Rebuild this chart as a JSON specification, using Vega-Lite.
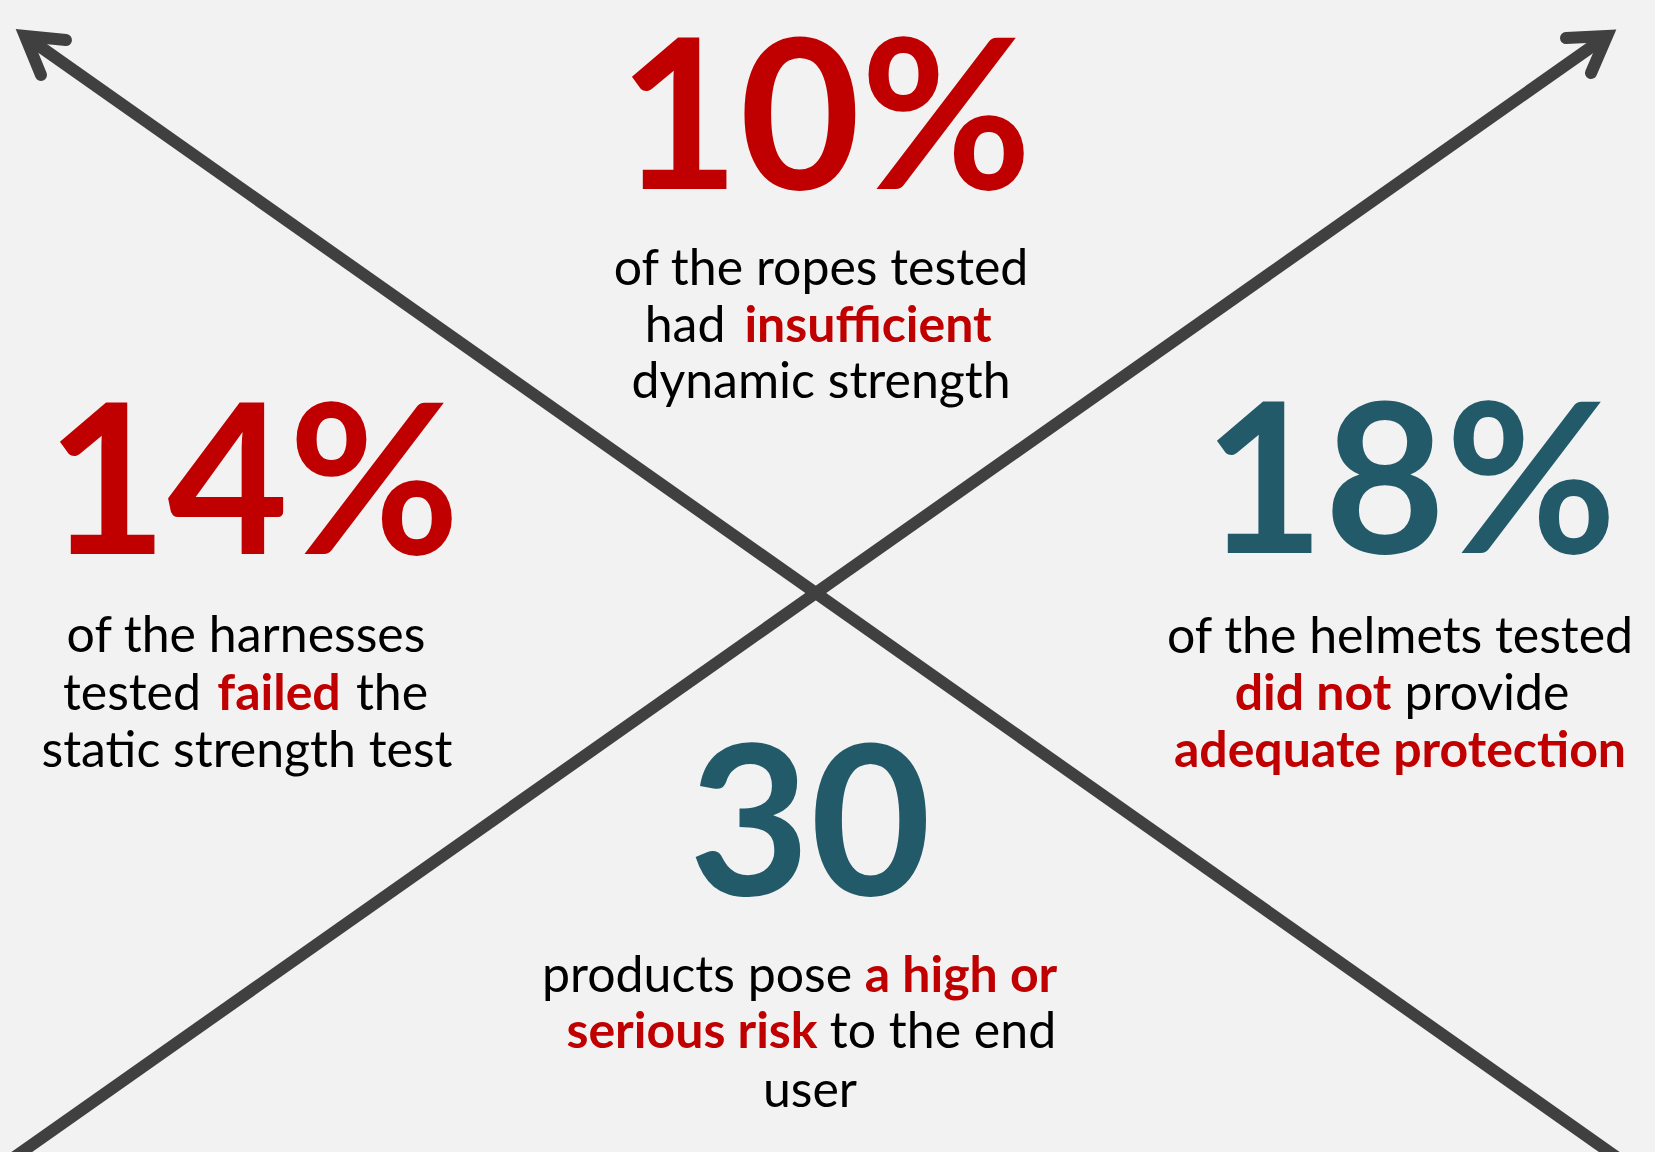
{
  "$schema": "https://vega.github.io/schema/vega-lite/v6.json",
  "width": 1655,
  "height": 1152,
  "autosize": {"type": "none"},
  "padding": 0,
  "background": "#f2f2f2",
  "config": {"view": {"stroke": null}},
  "datasets": {
    "strokes": [
      {"id": "a", "part": "shaft", "step": 0, "x": 25, "y": 36},
      {"id": "a", "part": "shaft", "step": 1, "x": 1649, "y": 1180},
      {"id": "b", "part": "shaft", "step": 0, "x": -18, "y": 1180},
      {"id": "b", "part": "shaft", "step": 1, "x": 1607, "y": 36},
      {"id": "c", "part": "head", "step": 0, "x": 66, "y": 40},
      {"id": "c", "part": "head", "step": 1, "x": 25, "y": 36},
      {"id": "c", "part": "head", "step": 2, "x": 41, "y": 75},
      {"id": "d", "part": "head", "step": 0, "x": 1566, "y": 38},
      {"id": "d", "part": "head", "step": 1, "x": 1607, "y": 36},
      {"id": "d", "part": "head", "step": 2, "x": 1591, "y": 73}
    ],
    "figures": [
      {"label": "10%", "x": 825, "y": 189, "tone": "alert"},
      {"label": "14%", "x": 253, "y": 554, "tone": "alert"},
      {"label": "18%", "x": 1410, "y": 553, "tone": "calm"},
      {"label": "30", "x": 810, "y": 895, "tone": "calm"}
    ],
    "phrases": [
      {"label": "of the ropes tested", "x": 821, "y": 285, "emph": false},
      {"label": "had", "x": 685, "y": 342, "emph": false},
      {"label": "insufficient", "x": 868, "y": 342, "emph": true},
      {"label": "dynamic strength", "x": 821, "y": 398, "emph": false},
      {"label": "of the harnesses", "x": 246, "y": 652, "emph": false},
      {"label": "tested", "x": 132, "y": 710, "emph": false},
      {"label": "failed", "x": 279, "y": 710, "emph": true},
      {"label": "the", "x": 392, "y": 710, "emph": false},
      {"label": "static strength test", "x": 247, "y": 767, "emph": false},
      {"label": "of the helmets tested", "x": 1400, "y": 653, "emph": false},
      {"label": "did not", "x": 1313, "y": 710, "emph": true},
      {"label": "provide", "x": 1487, "y": 710, "emph": false},
      {"label": "adequate protection", "x": 1400, "y": 767, "emph": true},
      {"label": "products pose", "x": 697, "y": 992, "emph": false},
      {"label": "a high or", "x": 961, "y": 992, "emph": true},
      {"label": "serious risk", "x": 692, "y": 1048, "emph": true},
      {"label": "to the end", "x": 943, "y": 1048, "emph": false},
      {"label": "user", "x": 810, "y": 1107, "emph": false}
    ]
  },
  "layer": [
    {
      "data": {"name": "strokes"},
      "transform": [{"filter": "datum.part == 'shaft'"}],
      "mark": {"type": "line", "color": "#404040", "strokeWidth": 12, "strokeCap": "butt", "clip": true},
      "encoding": {
        "x": {"field": "x", "type": "quantitative", "scale": {"domain": [0, 1655], "nice": false, "zero": false}, "axis": null},
        "y": {"field": "y", "type": "quantitative", "scale": {"domain": [0, 1152], "nice": false, "zero": false, "reverse": true}, "axis": null},
        "detail": {"field": "id"},
        "order": {"field": "step"}
      }
    },
    {
      "data": {"name": "strokes"},
      "transform": [{"filter": "datum.part == 'head'"}],
      "mark": {"type": "line", "color": "#404040", "strokeWidth": 12, "strokeCap": "round", "strokeJoin": "miter", "strokeMiterLimit": 10},
      "encoding": {
        "x": {"field": "x", "type": "quantitative", "scale": {"domain": [0, 1655], "nice": false, "zero": false}, "axis": null},
        "y": {"field": "y", "type": "quantitative", "scale": {"domain": [0, 1152], "nice": false, "zero": false, "reverse": true}, "axis": null},
        "detail": {"field": "id"},
        "order": {"field": "step"}
      }
    },
    {
      "data": {"name": "figures"},
      "mark": {"type": "text", "font": "Lato", "fontWeight": "bold", "fontSize": 209, "align": "center", "baseline": "alphabetic"},
      "encoding": {
        "x": {"field": "x", "type": "quantitative", "scale": {"domain": [0, 1655], "nice": false, "zero": false}, "axis": null},
        "y": {"field": "y", "type": "quantitative", "scale": {"domain": [0, 1152], "nice": false, "zero": false, "reverse": true}, "axis": null},
        "text": {"field": "label"},
        "color": {"field": "tone", "type": "nominal", "scale": {"domain": ["alert", "calm"], "range": ["#c00000", "#235a6a"]}, "legend": null}
      }
    },
    {
      "data": {"name": "phrases"},
      "transform": [{"filter": "!datum.emph"}],
      "mark": {"type": "text", "font": "Lato", "fontSize": 50, "align": "center", "baseline": "alphabetic", "color": "#000000"},
      "encoding": {
        "x": {"field": "x", "type": "quantitative", "scale": {"domain": [0, 1655], "nice": false, "zero": false}, "axis": null},
        "y": {"field": "y", "type": "quantitative", "scale": {"domain": [0, 1152], "nice": false, "zero": false, "reverse": true}, "axis": null},
        "text": {"field": "label"}
      }
    },
    {
      "data": {"name": "phrases"},
      "transform": [{"filter": "datum.emph"}],
      "mark": {"type": "text", "font": "Lato", "fontWeight": "bold", "fontSize": 50, "align": "center", "baseline": "alphabetic", "color": "#c00000"},
      "encoding": {
        "x": {"field": "x", "type": "quantitative", "scale": {"domain": [0, 1655], "nice": false, "zero": false}, "axis": null},
        "y": {"field": "y", "type": "quantitative", "scale": {"domain": [0, 1152], "nice": false, "zero": false, "reverse": true}, "axis": null},
        "text": {"field": "label"}
      }
    }
  ]
}
